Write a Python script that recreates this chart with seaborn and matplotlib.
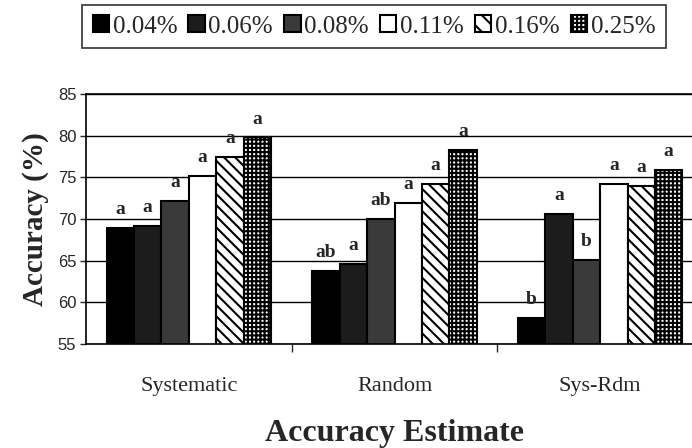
from matplotlib import pyplot as plt
import pandas as pd
import numpy as np
import seaborn as sns

estimates = ['Systematic', 'Random', 'Sys-Rdm']
rates = ['0.04%', '0.06%', '0.08%', '0.11%', '0.16%', '0.25%']

systematic = [68.9, 69.2, 72.2, 75.2, 77.5, 79.8]
random_ = [63.8, 64.6, 70.0, 71.9, 74.2, 78.3]
sys_rdm = [58.1, 70.6, 65.1, 74.2, 74.0, 75.9]

letters_systematic = ['a', 'a', 'a', 'a', 'a', 'a']
letters_random = ['ab', 'a', 'ab', 'a', 'a', 'a']
letters_sys_rdm = ['b', 'a', 'b', 'a', 'a', 'a']

rows = []
for est, vals in zip(estimates, [systematic, random_, sys_rdm]):
    for r, v in zip(rates, vals):
        rows.append({'estimate': est, 'rate': r, 'accuracy': v})
df = pd.DataFrame(rows)

letters = {r: [letters_systematic[i], letters_random[i], letters_sys_rdm[i]]
           for i, r in enumerate(rates)}

sns.set_style('white')
plt.rcParams['font.family'] = ['Liberation Serif', 'DejaVu Serif']
plt.rcParams['hatch.linewidth'] = 1.5

fills = ['black', '#1c1c1c', '#3a3a3a', 'white', 'white', 'white']
hatches = ['', '', '', '', '\\\\\\', '++++']

fig = plt.figure(figsize=(6.92, 4.48), dpi=100)
ax = fig.add_axes([86 / 692, 104 / 448, 617 / 692, 250 / 448])

sns.barplot(data=df, x='estimate', y='accuracy', hue='rate', hue_order=rates,
            palette=fills, edgecolor='black', linewidth=1.5, width=0.8,
            ax=ax, legend=True)

for cont, h, r in zip(ax.containers, hatches, rates):
    for p in cont:
        p.set_hatch(h)
    ax.bar_label(cont, labels=letters[r], padding=7, fontsize=14,
                 fontweight='bold')

ax.set_ylim(55, 85)
ax.set_xlim(-0.5, 2.5)
ax.set_yticks(range(55, 90, 5))
ax.yaxis.grid(True, color='black', linewidth=1.0)
ax.set_axisbelow(True)
for lab in ax.get_yticklabels():
    lab.set_fontfamily('Liberation Sans')
ax.tick_params(axis='y', labelsize=12, direction='out', length=4, width=1,
               left=True, pad=3)
ax.tick_params(axis='x', which='major', length=0, labelsize=16, pad=24)
ax.set_xticks([0.5, 1.5, 2.5], minor=True)
ax.tick_params(axis='x', which='minor', direction='out', length=6, width=1,
               bottom=True)
for s in ['left', 'bottom', 'top', 'right']:
    ax.spines[s].set_color('black')
    ax.spines[s].set_linewidth(1.2)

ax.set_xlabel('Accuracy Estimate', fontsize=23, fontweight='bold', labelpad=16)
ax.set_ylabel('Accuracy (%)', fontsize=21, fontweight='bold', labelpad=6)

handles, labs = ax.get_legend_handles_labels()
ax.get_legend().remove()
leg = fig.legend(handles, labs, loc='upper left', bbox_to_anchor=(82 / 692, 1 - 5 / 448),
                 ncol=6, fontsize=18, frameon=True, fancybox=False,
                 handlelength=0.65, handleheight=0.65, handletextpad=0.15,
                 columnspacing=0.45, borderpad=0.42, borderaxespad=0)
leg.get_frame().set_edgecolor('black')
leg.get_frame().set_linewidth(1.2)
for hnd, h, c in zip(leg.legend_handles, hatches, fills):
    hnd.set_hatch(h.replace('\\\\\\', '\\\\'))
    hnd.set_facecolor(c)
    hnd.set_edgecolor('black')

fig.savefig('out.png', dpi=100)
